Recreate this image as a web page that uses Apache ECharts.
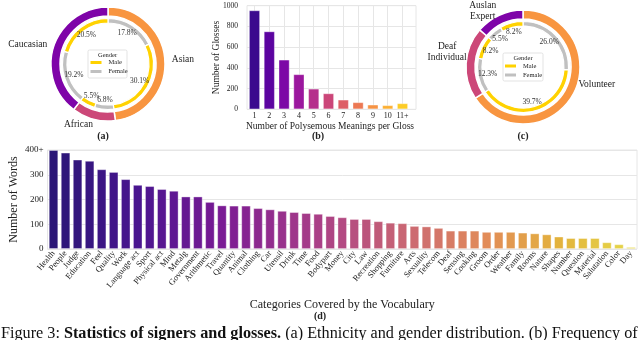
<!DOCTYPE html>
<html><head><meta charset="utf-8">
<script src="https://cdn.jsdelivr.net/npm/echarts@6/dist/echarts.min.js"></script>
<style>html,body{margin:0;padding:0;background:#fff}#c{width:640px;height:340px}</style>
</head><body><div id="c"></div>
<script>
// ---------- data ----------
const ethnicityLabels = ['Asian', 'African', 'Caucasian'];
const ethnicityFemale = [17.8, 6.8, 19.2];
const ethnicityMale = [30.1, 5.5, 20.5];

const roleLabels = ['Volunteer', 'Deaf\nIndividual', 'Auslan\nExpert'];
const roleFemale = [26.0, 12.3, 5.5];
const roleMale = [39.7, 8.2, 8.2];

const genderLabels = ['Male', 'Female'];

const polyCategories = ['1', '2', '3', '4', '5', '6', '7', '8', '9', '10', '11+'];
const polyCounts = [955, 752, 479, 338, 199, 154, 93, 68, 45, 39, 58];

const vocabCategories = ['Health', 'People', 'Judge', 'Education', 'Feel', 'Quality', 'Work', 'Language act', 'Sport', 'Physical act', 'Mind', 'Metalg', 'Government', 'Arithmetic', 'Travel', 'Quantity', 'Animal', 'Clothing', 'Car', 'Utensil', 'Drink', 'Time', 'Food', 'Bodypart', 'Money', 'City', 'Law', 'Recreation', 'Shopping', 'Furniture', 'Arts', 'Sexuality', 'Telecom', 'Deaf', 'Sensing', 'Cooking', 'Groom', 'Order', 'Weather', 'Family', 'Rooms', 'Nature', 'Shapes', 'Number', 'Question', 'Material', 'Salutation', 'Color', 'Day'];
const vocabCounts = [400, 389, 361, 356, 322, 311, 282, 259, 254, 242, 235, 212, 212, 190, 176, 175, 175, 165, 160, 154, 149, 145, 142, 133, 128, 121, 121, 112, 106, 104, 93, 91, 85, 74, 74, 74, 69, 69, 69, 66, 63, 59, 50, 44, 44, 44, 27, 19, 8];
const vocabTicks = ['0', '100', '200', '300', '400+'];

// ---------- style ----------
const FONT = 'Liberation Serif';
const TXT = '#222';
const GRID = '#e6e6e6';
const RING_COLORS = ['#f89540', '#cc4778', '#7e03a8'];
const C_MALE = '#ffd200', C_FEMALE = '#c0c0c0';
const POLY_COLORS = ['#3b0a8e', '#5c04a0', '#7c08a6', '#9b179e', '#b52f8c', '#cb4679', '#dd5e66', '#ec7853', '#f69343', '#fcaf32', '#fccc27'];
const VOCAB_STOPS = [[0, '#2a1676'], [0.15, '#4a1590'], [0.29, '#7a1a94'], [0.45, '#a83d88'], [0.62, '#cc6a72'], [0.75, '#e28c58'], [0.88, '#e3b43c'], [1, '#e6d84a']];
function hex(c) { return [1, 3, 5].map(k => parseInt(c.slice(k, k + 2), 16)); }
function grad(t) {
  for (let k = 0; k < VOCAB_STOPS.length - 1; k++) {
    const [t0, c0] = VOCAB_STOPS[k], [t1, c1] = VOCAB_STOPS[k + 1];
    if (t <= t1) {
      const f = (t - t0) / (t1 - t0), a = hex(c0), b = hex(c1);
      return 'rgb(' + a.map((v, j) => Math.round(v + (b[j] - v) * f)).join(',') + ')';
    }
  }
  return VOCAB_STOPS[VOCAB_STOPS.length - 1][1];
}

// label nudges (style only): [dx, dy, align]
const ETH_LABEL_NUDGE = [[-4, 0], [6, 0], [4, 0]];
const ROLE_LABEL_NUDGE = [[-5, -12], [-8, -11, 'center'], [-9, 1.5, 'center']];

function donut(center, labels, female, male, nudge) {
  const outer = labels.map((n, i) => ({ name: n, value: +(female[i] + male[i]).toFixed(1), itemStyle: { color: RING_COLORS[i] } }));
  const inner = [];
  labels.forEach((n, i) => {
    inner.push({ name: 'Female', value: female[i], itemStyle: { color: C_FEMALE } });
    inner.push({ name: 'Male', value: male[i], itemStyle: { color: C_MALE } });
  });
  const common = { type: 'pie', center: center, startAngle: 90, clockwise: true, avoidLabelOverlap: false, silent: true, animation: false };
  return [
    Object.assign({}, common, {
      radius: [48, 57], data: outer,
      itemStyle: { borderColor: '#fff', borderWidth: 1.5 },
      label: { show: true, position: 'outside', fontFamily: FONT, fontSize: 9.5, color: TXT, lineHeight: 11 },
      labelLine: { show: false, length: 6, length2: 0 },
      labelLayout: p => {
        const a = nudge[p.dataIndex];
        const r = { dx: a[0], dy: a[1], hideOverlap: false };
        if (a[2]) r.align = a[2];
        return r;
      }
    }),
    Object.assign({}, common, {
      radius: [41, 45.5], data: inner,
      itemStyle: { borderColor: '#fff', borderWidth: 1.2 },
      label: { show: false }, labelLine: { show: false }
    }),
    Object.assign({}, common, {
      radius: [22, 44], data: inner.map(d => ({ name: d.name, value: d.value })),
      itemStyle: { color: 'rgba(0,0,0,0)' },
      label: { show: true, position: 'inside', fontFamily: FONT, fontSize: 7.5, color: '#333', formatter: p => p.value.toFixed(1) + '%' },
      labelLine: { show: false },
      labelLayout: { hideOverlap: false }
    })
  ];
}

function legendBox(x, y, w, h) {
  return [
    { type: 'rect', shape: { x: x, y: y, width: w, height: h, r: 1.5 }, style: { fill: 'rgba(255,255,255,0.85)', stroke: '#dcdcdc', lineWidth: 0.8 }, z: 50 },
    { type: 'text', x: x + w / 2, y: y + 5, style: { text: 'Gender', font: '6.5px ' + FONT, fill: TXT, textAlign: 'center', textVerticalAlign: 'middle' }, z: 51 }
  ];
}
function legendCfg(left, top) {
  return {
    data: genderLabels, orient: 'vertical', left: left, top: top, icon: 'rect', itemWidth: 11, itemHeight: 3,
    itemGap: 1, selectedMode: false, padding: 0, z: 60,
    itemStyle: { borderWidth: 0 },
    textStyle: { fontFamily: FONT, fontSize: 6.5, color: TXT, lineHeight: 8, padding: [0, 0, 0, 2] }
  };
}

const option = {
  animation: false,
  textStyle: { fontFamily: FONT },
  legend: [legendCfg(90.5, 58.5), legendCfg(505, 62)],
  grid: [
    { left: 247, top: 5.7, width: 169, height: 103.6, show: true, borderColor: GRID, borderWidth: 1 },
    { left: 254.5, top: 5.7, width: 148, height: 103.6 },
    { left: 38, top: 150, width: 599, height: 99, show: true, borderColor: GRID, borderWidth: 1 }
  ],
  xAxis: [
    { type: 'value', gridIndex: 0, min: 0, max: 1, show: false },
    { type: 'category', gridIndex: 1, data: polyCategories, boundaryGap: false,
      axisLine: { show: false }, axisTick: { show: false },
      splitLine: { show: true, lineStyle: { color: GRID, width: 1 } },
      axisLabel: { fontFamily: FONT, fontSize: 8, color: TXT, margin: 3, interval: 0 },
      name: 'Number of Polysemous Meanings per Gloss', nameLocation: 'middle', nameGap: 12, nameMoveOverlap: false,
      nameTextStyle: { fontFamily: FONT, fontSize: 9.5, color: TXT, padding: [0, 0, 0, 3] } },
    { type: 'category', gridIndex: 2, data: vocabCategories,
      axisLine: { show: false }, axisTick: { show: false },
      axisLabel: { fontFamily: FONT, fontSize: 8.5, color: TXT, rotate: 50, margin: 3, interval: 0 },
      name: 'Categories Covered by the Vocabulary', nameLocation: 'middle', nameGap: 50,
      nameTextStyle: { fontFamily: FONT, fontSize: 12, color: TXT } }
  ],
  yAxis: [
    { type: 'value', gridIndex: 0, min: 0, max: 1000, interval: 200,
      axisLine: { show: false }, axisTick: { show: false },
      splitLine: { show: true, lineStyle: { color: GRID, width: 1 } },
      axisLabel: { fontFamily: FONT, fontSize: 7.5, color: TXT, margin: 9, formatter: v => String(v) },
      name: 'Number of Glosses', nameLocation: 'middle', nameGap: 25.5, nameMoveOverlap: false,
      nameTextStyle: { fontFamily: FONT, fontSize: 9.5, color: TXT } },
    { type: 'value', gridIndex: 1, min: 0, max: 1000, show: false },
    { type: 'value', gridIndex: 2, min: 0, max: 400, interval: 100,
      axisLine: { show: false }, axisTick: { show: false },
      splitLine: { show: true, lineStyle: { color: GRID, width: 1 } },
      axisLabel: { fontFamily: FONT, fontSize: 9, color: TXT, margin: 4, formatter: v => vocabTicks[Math.round(v / 100)] },
      name: 'Number of Words', nameLocation: 'middle', nameGap: 27.5, nameMoveOverlap: false,
      nameTextStyle: { fontFamily: FONT, fontSize: 12, color: TXT } }
  ],
  series: [].concat(
    donut([108, 64], ethnicityLabels, ethnicityFemale, ethnicityMale, ETH_LABEL_NUDGE),
    donut([523, 67], roleLabels, roleFemale, roleMale, ROLE_LABEL_NUDGE),
    [
      { type: 'bar', xAxisIndex: 1, yAxisIndex: 1, barWidth: 11, clip: false, silent: true,
        data: polyCounts.map((v, i) => ({ value: v, itemStyle: { color: POLY_COLORS[i] } })),
        itemStyle: { borderColor: 'rgba(255,255,255,0.45)', borderWidth: 0.8 } },
      { type: 'bar', xAxisIndex: 2, yAxisIndex: 2, barCategoryGap: '22%', silent: true,
        data: vocabCounts.map((v, i) => ({ value: v, itemStyle: { color: grad(i / (vocabCounts.length - 1)) } })),
        itemStyle: { borderColor: 'rgba(255,255,255,0.45)', borderWidth: 0.8 } }
    ]
  ),
  graphic: [].concat(
    legendBox(88, 50, 39, 28),
    legendBox(503, 53, 40, 28),
    [
      { type: 'text', x: 103, y: 136, style: { text: '(a)', font: 'bold 10px ' + FONT, fill: TXT, textAlign: 'center', textVerticalAlign: 'middle' } },
      { type: 'text', x: 318, y: 136, style: { text: '(b)', font: 'bold 10px ' + FONT, fill: TXT, textAlign: 'center', textVerticalAlign: 'middle' } },
      { type: 'text', x: 523, y: 136, style: { text: '(c)', font: 'bold 10px ' + FONT, fill: TXT, textAlign: 'center', textVerticalAlign: 'middle' } },
      { type: 'text', x: 320, y: 316, style: { text: '(d)', font: 'bold 10px ' + FONT, fill: TXT, textAlign: 'center', textVerticalAlign: 'middle' } },
      { type: 'text', x: 1, y: 326, style: {
          text: 'Figure 3: {b|Statistics of signers and glosses.} (a) Ethnicity and gender distribution. (b) Frequency of',
          font: '16.2px ' + FONT, fill: '#111',
          rich: { b: { fontFamily: FONT, fontSize: 16.2, fontWeight: 'bold', fill: '#111' } } } }
    ]
  )
};
const chart = echarts.init(document.getElementById('c'), null, { renderer: 'canvas' });
chart.setOption(option);
</script></body></html>
